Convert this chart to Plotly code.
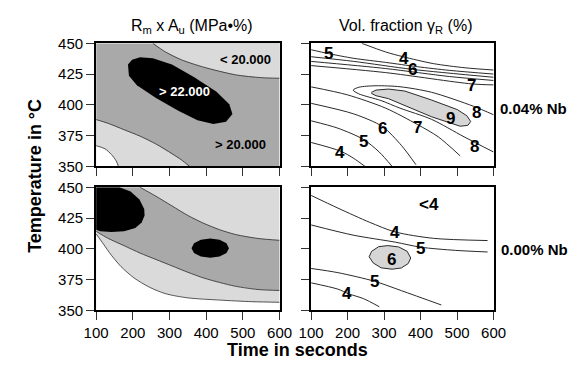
import plotly.graph_objects as go

# ---------------- data (time in s, temperature in degC) ----------------
X_RANGE = [100, 600]
Y_RANGE = [350, 450]
X_TICKS = [100, 200, 300, 400, 500, 600]
Y_TICKS = [350, 375, 400, 425, 450]

# --- Panel A: Rm x Au, 0.04% Nb ---
a_upper_t = [254.5, 289, 332.6, 393.4, 480, 549.7, 600]
a_upper_T = [450, 443, 436.6, 430.6, 424.4, 422.1, 421.6]
a_lower_t = [100, 133, 176.4, 219.8, 263.2, 306.6, 332.6, 354.4]
a_lower_T = [388, 384.9, 379.7, 374.5, 368.1, 360.3, 355.2, 350]
a_white_t = [100, 124.3, 141.7, 154.7, 160.8]
a_white_T = [366.8, 364.2, 359.6, 354.4, 350]
a_peak_t = [186.8, 198.1, 219.8, 254.5, 306.6, 367.4, 428.1, 462.9, 471.5, 454.2,
            419.5, 376.1, 324, 263.2, 211.1, 189.4]
a_peak_T = [432.7, 436.6, 438.6, 437.9, 432.7, 422.4, 410.7, 400.4, 392.6, 386.2,
            384.4, 387.5, 395.2, 405.6, 415.9, 423.6]
a_labels = ["< 20.000", "> 22.000", "> 20.000"]
a_label_t = [506, 341, 493]
a_label_T = [436.6, 411, 368]

# --- Panel B: Rm x Au, 0.00% Nb ---
b_curveA_t = [219.8, 263.2, 306.6, 350, 393.4, 436.8, 480.2, 541, 600]
b_curveA_T = [450, 442.7, 434.9, 427.1, 420.7, 415.5, 411.6, 408.4, 406.9]
b_curveB_t = [100, 133, 176.4, 219.8, 263.2, 306.6, 350, 393.4, 436.8, 480.2, 541, 600]
b_curveB_T = [414.2, 408.4, 402.5, 396.5, 391.3, 386.1, 380.9, 376.2, 372.6, 369.5, 366.9, 366.1]
b_curveC_t = [100, 120, 141.7, 167.7, 202.4, 245.8, 289.2, 350, 436.8, 523.6, 600]
b_curveC_T = [412.1, 403.8, 394.7, 385.6, 376.5, 368.7, 363.5, 360.1, 358.3, 357, 356.5]
b_blob_t = [100, 163.4, 193.8, 218.1, 231.1, 232, 224.1, 206.8, 176.4, 141.7, 111.3, 100]
b_blob_T = [450, 450, 446.6, 440.1, 432.3, 427.1, 421.4, 416.8, 414.2, 413.6, 414.2, 415.5]
b_spot_t = [462, 455.2, 436.5, 411, 385.5, 366.8, 360, 366.8, 385.5, 411, 436.5, 455.2]
b_spot_T = [400.5, 404.4, 407.3, 408.3, 407.3, 404.4, 400.5, 396.6, 393.7, 392.7, 393.7, 396.6]

# --- Panel C: retained austenite, 0.04% Nb ---
c_lines = {
    "u4": ([239, 304, 352, 435, 522, 600], [450, 443, 439.1, 433.5, 430.1, 428.3]),
    "u5": ([100, 147, 217, 304, 391, 479, 600], [444.8, 441.7, 437.8, 434.5, 431, 428, 425]),
    "u6": ([100, 217, 378, 600], [439.1, 435.3, 428.8, 422.4]),
    "u6b": ([100, 304, 479, 600], [435.3, 429.5, 423, 419.8]),
    "u7": ([100, 304, 540, 600], [431.9, 426.2, 417, 416.2]),
    "l7": ([100, 199.5, 304.2, 390.6, 448.2, 508.4], [414.6, 408.1, 397.3, 384.1, 374, 358.5]),
    "l6": ([100, 217, 295.6, 347.9, 387.2], [401.2, 392.6, 382.3, 366.8, 351.3]),
    "l5": ([100, 173.3, 243.2, 286.7, 321.7], [387, 381, 371.9, 361.6, 350]),
    "l4": ([100, 181.9, 217, 247.4], [369.4, 362.2, 356.4, 350]),
    "loop8": ([600, 545, 429.9, 343.5, 278, 230.9, 215.2, 230.9, 291.1, 343.5, 429.9, 518.9, 600],
              [391.9, 398.8, 410.2, 414.7, 415.5, 414.3, 412, 408.9, 403.5, 397.3, 388.2, 374, 361.6]),
}
c_peak_t = [264.9, 278, 312.1, 356.6, 429.9, 500.6, 526.7, 537.2, 529.4, 508.4, 429.9, 351.3, 312.1, 278, 264.9]
c_peak_T = [410.1, 412, 412.8, 411.2, 403.9, 396.1, 391.1, 386.4, 383.3, 382.6, 390.3, 400.4, 405, 407.4, 409.3]
c_labels = ["5", "4", "6", "7", "8", "9", "8", "7", "6", "5", "4"]
c_label_t = [147, 354, 378.4, 539.8, 553, 483, 546.3, 391.4, 295.6, 243.2, 179.3]
c_label_T = [441.5, 438, 428.6, 415.7, 393.8, 388.5, 365.9, 381.8, 381, 370.4, 360.9]

# --- Panel D: retained austenite, 0.00% Nb ---
d_lines = {
    "u4": ([100, 173.3, 260.6, 330.4, 435.1, 583.5], [443.4, 433.1, 421.5, 413.7, 408.5, 406.7]),
    "u5": ([100, 215.2, 330.4, 400.3, 496.1, 583.5], [419.4, 411.1, 405.4, 401.3, 398.7, 397.4]),
    "l5": ([100, 173.3, 273.6, 347.9, 456.8], [384, 380.6, 373.6, 365.9, 354.3]),
    "l4": ([100, 173.3, 203.9, 243.2, 286.7], [372.3, 367.2, 363.3, 359.5, 352.9]),
}
d_peak_t = [259, 266, 285, 310, 340, 363, 373, 366, 347, 322, 292, 270, 259]
d_peak_T = [393.5, 398, 401.7, 402.6, 401.5, 398, 392.5, 388, 384.4, 383.4, 384.5, 388.5, 393.5]
d_labels = ["<4", "4", "5", "6", "5", "4"]
d_label_t = [422, 330.4, 400.3, 320, 273.6, 199.5]
d_label_T = [435.7, 413.6, 400, 391.5, 373.6, 363.6]

# ---------------- styling ----------------
FONT = "Liberation Sans, Arial, sans-serif"
NARROW = "Liberation Sans Narrow, Arial Narrow, Liberation Sans, sans-serif"
MID_GRAY = "#a9a9a9"
LIGHT_GRAY = "#dadada"
PEAK_GRAY = "#d6d6d6"
LINE_C = "#2a2a2a"

W, H = 584, 365
XDOM_L = [87 / W, 279 / W]
XDOM_R = [312 / W, 503 / W]
YDOM_T = [1 - 165 / H, 1 - 36 / H]
YDOM_B = [1 - 316 / H, 1 - 187 / H]

fig = go.Figure()


def poly(t, T, fill, xa, ya, line_w=0, line_c=LINE_C):
    fig.add_trace(go.Scatter(x=t, y=T, mode="lines", fill="toself", fillcolor=fill,
                             line=dict(width=line_w, color=line_c), xaxis=xa, yaxis=ya,
                             hoverinfo="skip", showlegend=False))


def line(t, T, xa, ya, w=1, c=LINE_C):
    fig.add_trace(go.Scatter(x=t, y=T, mode="lines", line=dict(width=w, color=c, shape="spline", smoothing=0.8),
                             xaxis=xa, yaxis=ya, hoverinfo="skip", showlegend=False))


# Panel A fills
poly(a_upper_t + [X_RANGE[1]], a_upper_T + [Y_RANGE[1]], LIGHT_GRAY, "x", "y")
poly(a_lower_t + [X_RANGE[0]], a_lower_T + [Y_RANGE[0]], LIGHT_GRAY, "x", "y")
poly(a_white_t + [X_RANGE[0]], a_white_T + [Y_RANGE[0]], "white", "x", "y")
poly(a_peak_t, a_peak_T, "black", "x", "y")
for tt, TT in [(a_upper_t, a_upper_T), (a_lower_t, a_lower_T), (a_white_t, a_white_T)]:
    line(tt, TT, "x", "y", w=0.8)

# Panel B fills
poly([X_RANGE[0]] + b_curveA_t + b_curveB_t[::-1], [Y_RANGE[1]] + b_curveA_T + b_curveB_T[::-1],
     MID_GRAY, "x3", "y3")
poly(b_curveC_t + [X_RANGE[1], X_RANGE[0]], b_curveC_T + [Y_RANGE[0], Y_RANGE[0]], "white", "x3", "y3")
poly(b_blob_t, b_blob_T, "black", "x3", "y3")
poly(b_spot_t, b_spot_T, "black", "x3", "y3")
for tt, TT in [(b_curveA_t, b_curveA_T), (b_curveB_t, b_curveB_T), (b_curveC_t, b_curveC_T)]:
    line(tt, TT, "x3", "y3", w=0.8)

# Panel C
poly(c_peak_t, c_peak_T, PEAK_GRAY, "x2", "y2", line_w=1)
for k, (tt, TT) in c_lines.items():
    line(tt, TT, "x2", "y2")

# Panel D
poly(d_peak_t, d_peak_T, PEAK_GRAY, "x4", "y4", line_w=1)
for k, (tt, TT) in d_lines.items():
    line(tt, TT, "x4", "y4")

# backgrounds
shapes = [
    dict(type="rect", xref="x", yref="y", x0=X_RANGE[0], x1=X_RANGE[1], y0=Y_RANGE[0], y1=Y_RANGE[1],
         fillcolor=MID_GRAY, line=dict(width=0), layer="below"),
    dict(type="rect", xref="x3", yref="y3", x0=X_RANGE[0], x1=X_RANGE[1], y0=Y_RANGE[0], y1=Y_RANGE[1],
         fillcolor=LIGHT_GRAY, line=dict(width=0), layer="below"),
]

annotations = []


def add_labels(labels, tt, TT, xr, yr, size=17, color="black", family=NARROW):
    for s, a, b in zip(labels, tt, TT):
        annotations.append(dict(text="<b>" + s + "</b>", x=a, y=b, xref=xr, yref=yr, showarrow=False,
                                xanchor="center", yanchor="middle",
                                font=dict(family=family, size=size, color=color)))


add_labels(a_labels, a_label_t, a_label_T, "x", "y", size=13, family=FONT)
annotations[1]["font"]["color"] = "white"
add_labels(c_labels, c_label_t, c_label_T, "x2", "y2")
add_labels(d_labels, d_label_t, d_label_T, "x4", "y4")


def paper_text(text, px, py, size, angle=0):
    return dict(text=text, x=px / W, y=1 - py / H, xref="paper", yref="paper", showarrow=False,
                xanchor="center", yanchor="middle", textangle=angle,
                font=dict(family=FONT, size=size, color="black"))


annotations += [
    paper_text("R<sub>m</sub> x A<sub>u</sub> (MPa•%)", 187, 18, 16),
    paper_text("Vol. fraction γ<sub>R</sub> (%)", 411, 18, 16),
    paper_text("<b>Temperature in °C</b>", 23, 175, 18, angle=-90),
    paper_text("<b>Time in seconds</b>", 298, 358, 18),
    paper_text("<b>0.04% Nb</b>", 544.5, 104, 15),
    paper_text("<b>0.00% Nb</b>", 545.5, 252, 15),
]

axis_common = dict(showgrid=False, zeroline=False, showline=True, mirror=True,
                   linecolor="black", linewidth=2, ticks="outside", ticklen=8, tickwidth=1,
                   tickcolor="#333", tickfont=dict(family=FONT, size=15, color="black"))


def xax(dom, anchor, labels):
    d = dict(axis_common)
    d.update(domain=dom, anchor=anchor, range=X_RANGE, tickvals=X_TICKS, showticklabels=labels)
    return d


def yax(dom, anchor, labels):
    d = dict(axis_common)
    d.update(domain=dom, anchor=anchor, range=Y_RANGE, tickvals=Y_TICKS, showticklabels=labels)
    return d


fig.update_layout(
    width=W, height=H, autosize=False,
    margin=dict(l=0, r=0, t=0, b=0),
    paper_bgcolor="white", plot_bgcolor="white",
    xaxis=xax(XDOM_L, "y", False), yaxis=yax(YDOM_T, "x", True),
    xaxis2=xax(XDOM_R, "y2", False), yaxis2=yax(YDOM_T, "x2", False),
    xaxis3=xax(XDOM_L, "y3", True), yaxis3=yax(YDOM_B, "x3", True),
    xaxis4=xax(XDOM_R, "y4", True), yaxis4=yax(YDOM_B, "x4", False),
    shapes=shapes, annotations=annotations,
)

fig.write_html("out.html")
